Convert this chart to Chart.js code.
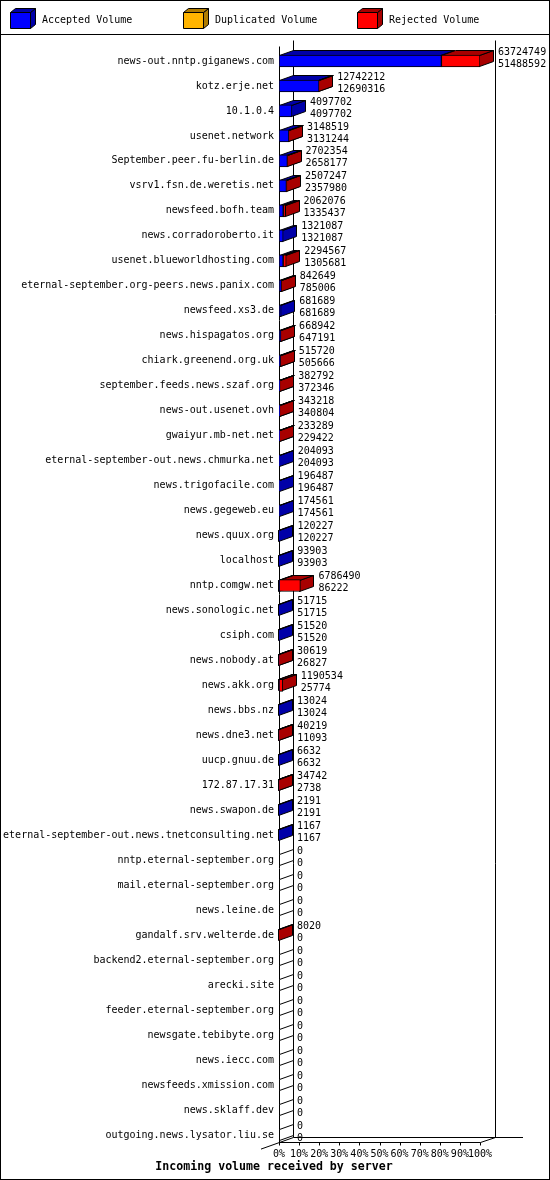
<!DOCTYPE html>
<html>
<head>
<meta charset="utf-8">
<title>Incoming volume received by server</title>
<script src="https://cdn.jsdelivr.net/npm/chart.js@4/dist/chart.umd.min.js"></script>
<style>
html, body { margin: 0; padding: 0; background: #fff; }
canvas { display: block; }
</style>
</head>
<body>
<canvas id="volumeChart" width="550" height="1180"></canvas>
<script>
// servidores y volúmenes
const servers = [
    'news-out.nntp.giganews.com', 'kotz.erje.net', '10.1.0.4', 'usenet.network',
    'September.peer.fu-berlin.de', 'vsrv1.fsn.de.weretis.net', 'newsfeed.bofh.team',
    'news.corradoroberto.it', 'usenet.blueworldhosting.com',
    'eternal-september.org-peers.news.panix.com', 'newsfeed.xs3.de', 'news.hispagatos.org',
    'chiark.greenend.org.uk', 'september.feeds.news.szaf.org', 'news-out.usenet.ovh',
    'gwaiyur.mb-net.net', 'eternal-september-out.news.chmurka.net', 'news.trigofacile.com',
    'news.gegeweb.eu', 'news.quux.org', 'localhost', 'nntp.comgw.net', 'news.sonologic.net',
    'csiph.com', 'news.nobody.at', 'news.akk.org', 'news.bbs.nz', 'news.dne3.net',
    'uucp.gnuu.de', '172.87.17.31', 'news.swapon.de',
    'eternal-september-out.news.tnetconsulting.net', 'nntp.eternal-september.org',
    'mail.eternal-september.org', 'news.leine.de', 'gandalf.srv.welterde.de',
    'backend2.eternal-september.org', 'arecki.site', 'feeder.eternal-september.org',
    'newsgate.tebibyte.org', 'news.iecc.com', 'newsfeeds.xmission.com', 'news.sklaff.dev',
    'outgoing.news.lysator.liu.se'
];

const totalVolume = [
    63724749, 12742212, 4097702, 3148519, 2702354, 2507247, 2062076, 1321087, 2294567,
    842649, 681689, 668942, 515720, 382792, 343218, 233289, 204093, 196487, 174561,
    120227, 93903, 6786490, 51715, 51520, 30619, 1190534, 13024, 40219, 6632, 34742,
    2191, 1167, 0, 0, 0, 8020, 0, 0, 0, 0, 0, 0, 0, 0
];

const acceptedVolume = [
    51488592, 12690316, 4097702, 3131244, 2658177, 2357980, 1335437, 1321087, 1305681,
    785006, 681689, 647191, 505666, 372346, 340804, 229422, 204093, 196487, 174561,
    120227, 93903, 86222, 51715, 51520, 26827, 25774, 13024, 11093, 6632, 2738,
    2191, 1167, 0, 0, 0, 0, 0, 0, 0, 0, 0, 0, 0, 0
];

const duplicatedVolume = [
    0, 0, 0, 0, 0, 0, 0, 0, 0, 0, 0, 0, 0, 0, 0, 0, 0, 0, 0, 0, 0, 0,
    0, 0, 0, 0, 0, 0, 0, 0, 0, 0, 0, 0, 0, 0, 0, 0, 0, 0, 0, 0, 0, 0
];

const tickPercents = [0, 10, 20, 30, 40, 50, 60, 70, 80, 90, 100];

const chartTitle = 'Incoming volume received by server';

// estilo
const mono = '"DejaVu Sans Mono", monospace';
const depth = { dx: 14, dy: 5 };
const barHeight = 12;

const maxVolume = Math.max(...totalVolume);
const toPct = v => v / maxVolume * 100;
const rejectedVolume = totalVolume.map((t, i) => t - acceptedVolume[i] - duplicatedVolume[i]);

function poly(ctx, pts, fill) {
    ctx.beginPath();
    ctx.moveTo(pts[0][0], pts[0][1]);
    for (let k = 1; k < pts.length; k++) ctx.lineTo(pts[k][0], pts[k][1]);
    ctx.closePath();
    if (fill) {
        ctx.fillStyle = fill;
        ctx.fill();
    }
    ctx.stroke();
}

function line(ctx, ax, ay, bx, by) {
    ctx.beginPath();
    ctx.moveTo(ax, ay);
    ctx.lineTo(bx, by);
    ctx.stroke();
}

// caras laterales y superiores de las barras, paredes y suelo
const box3d = {
    id: 'box3d',
    beforeDatasetsDraw(chart) {
        const { ctx, scales: { x, y } } = chart;
        const { dx, dy } = depth;
        ctx.save();
        ctx.lineWidth = 1;
        ctx.strokeStyle = '#000';

        const x0 = Math.round(x.getPixelForValue(0)) + 0.5;
        const x1 = Math.round(x.getPixelForValue(100)) + 0.5;
        const wallTop = Math.round(y.getPixelForValue(0)) - 20.5;
        const floorY = Math.round(y.getPixelForValue(servers.length - 1)) + 7.5;

        line(ctx, x0, wallTop + dy + 1, x0, floorY);
        line(ctx, x0 + dx, wallTop, x0 + dx, floorY - dy);
        line(ctx, x1 + dx + 1, wallTop, x1 + dx + 1, floorY - dy);
        line(ctx, x0, floorY, x1, floorY);
        line(ctx, x1, floorY, x1 + dx + 1, floorY - dy);
        line(ctx, x0 + dx, floorY - dy, 523, floorY - dy);
        line(ctx, 261, floorY + (x0 - 261) * dy / dx, x0 + dx, floorY - dy);
        tickPercents.forEach(v => {
            const px = Math.round(x.getPixelForValue(v)) + 0.5;
            line(ctx, px, floorY, px, floorY + 3);
        });

        const sets = chart.data.datasets;
        servers.forEach((_, i) => {
            const c = Math.round(y.getPixelForValue(i));
            const yT = c - barHeight / 2 + 0.5;
            const yB = c + barHeight / 2 - 0.5;
            let cum = 0;
            sets.forEach(d => {
                const v = d.data[i];
                if (!v) return;
                const xs = Math.round(x.getPixelForValue(cum)) + 0.5;
                cum += v;
                const xe = Math.round(x.getPixelForValue(cum)) - 0.5;
                poly(ctx, [[xe, yT], [xe, yB], [xe + dx, yB - dy], [xe + dx, yT - dy]], d.sideColor);
                poly(ctx, [[xs, yT], [xe, yT], [xe + dx, yT - dy], [xs + dx, yT - dy]], d.sideColor);
            });
            if (cum === 0) {
                poly(ctx, [[x0, yT], [x0, yB], [x0 + dx, yB - dy], [x0 + dx, yT - dy]], '#fff');
            }
        });
        ctx.restore();
    },
    afterDatasetsDraw(chart) {
        const { ctx, scales: { x, y } } = chart;
        ctx.save();
        ctx.fillStyle = '#000';
        ctx.font = '10px ' + mono;
        ctx.textAlign = 'left';
        ctx.textBaseline = 'middle';
        servers.forEach((_, i) => {
            const c = y.getPixelForValue(i);
            const xt = x.getPixelForValue(toPct(totalVolume[i])) + depth.dx + 4;
            ctx.fillText(String(totalVolume[i]), xt, c - 9);
            ctx.fillText(String(acceptedVolume[i]), xt, c + 3);
        });
        ctx.restore();
    },
    afterDraw(chart) {
        const { ctx } = chart;
        ctx.save();
        ctx.lineWidth = 1;
        ctx.strokeStyle = '#000';
        ctx.strokeRect(0.5, 0.5, chart.width - 1, chart.height - 1);
        line(ctx, 0, 34.5, chart.width, 34.5);

        // título del eje, centrado en todo el ancho
        ctx.fillStyle = '#000';
        ctx.font = 'bold 11.6px ' + mono;
        ctx.textAlign = 'center';
        ctx.textBaseline = 'middle';
        ctx.fillText(chartTitle, chart.width / 2 - 1, 1167);

        // leyenda con cubos
        const legendX = [10, 183, 357];
        ctx.font = '10px ' + mono;
        ctx.textAlign = 'left';
        chart.data.datasets.forEach((d, k) => {
            const lx = legendX[k] + 0.5, ly = 12.5, w = 20, h = 16, ddx = 5, ddy = 4;
            poly(ctx, [[lx + w, ly], [lx + w, ly + h], [lx + w + ddx, ly + h - ddy], [lx + w + ddx, ly - ddy]], d.sideColor);
            poly(ctx, [[lx, ly], [lx + w, ly], [lx + w + ddx, ly - ddy], [lx + ddx, ly - ddy]], d.sideColor);
            poly(ctx, [[lx, ly], [lx + w, ly], [lx + w, ly + h], [lx, ly + h]], d.backgroundColor);
            ctx.fillStyle = '#000';
            ctx.fillText(d.label, legendX[k] + 32, 20);
        });
        ctx.restore();
    }
};

new Chart(document.getElementById('volumeChart'), {
    type: 'bar',
    data: {
        labels: servers,
        datasets: [
            {
                label: 'Accepted Volume',
                data: acceptedVolume.map(toPct),
                backgroundColor: '#0000ff',
                sideColor: '#0000a8'
            },
            {
                label: 'Duplicated Volume',
                data: duplicatedVolume.map(toPct),
                backgroundColor: '#ffb400',
                sideColor: '#b07c00'
            },
            {
                label: 'Rejected Volume',
                data: rejectedVolume.map(toPct),
                backgroundColor: '#ff0000',
                sideColor: '#a80000'
            }
        ].map(d => ({
            ...d,
            borderColor: '#000',
            borderWidth: 1,
            borderSkipped: false,
            barThickness: barHeight
        }))
    },
    options: {
        indexAxis: 'y',
        responsive: false,
        devicePixelRatio: 1,
        animation: false,
        layout: { padding: { top: 48.5, right: 70, bottom: 18.5, left: 0 } },
        plugins: {
            legend: { display: false },
            tooltip: { enabled: false },
            title: { display: false }
        },
        scales: {
            x: {
                stacked: true,
                min: 0,
                max: 100,
                grid: { display: false, drawTicks: false },
                border: { display: false },
                afterBuildTicks: s => { s.ticks = tickPercents.map(v => ({ value: v })); },
                ticks: {
                    autoSkip: false,
                    maxRotation: 0,
                    padding: 1,
                    color: '#000',
                    font: { family: mono, size: 10 },
                    callback: v => v + '%'
                }
            },
            y: {
                stacked: true,
                grid: { display: false, drawTicks: false },
                border: { display: false },
                afterFit: s => { s.width = 279; },
                ticks: {
                    autoSkip: false,
                    padding: 5,
                    color: '#000',
                    font: { family: mono, size: 10 }
                }
            }
        }
    },
    plugins: [box3d]
});
</script>
</body>
</html>
